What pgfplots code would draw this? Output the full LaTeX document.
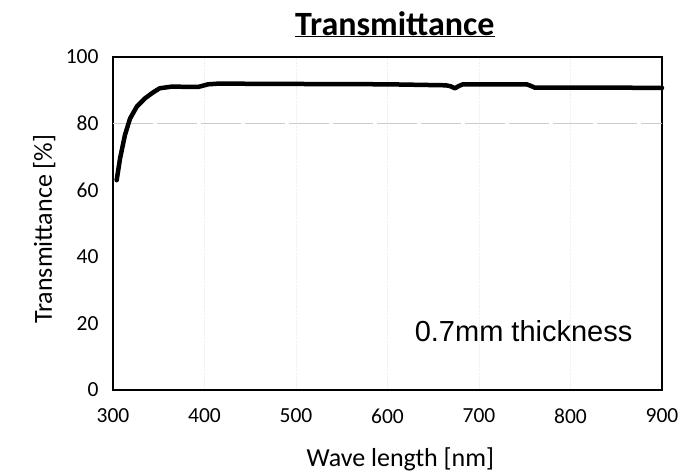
\documentclass[border=0pt]{standalone}
\usepackage{pgfplots}
\pgfplotsset{compat=1.18}
\usepackage{fontspec}
\setmainfont{Carlito}
\newfontfamily\arial{Liberation Sans}
\begin{document}
\begin{tikzpicture}
\begin{axis}[
  scale only axis,
  width=549bp, height=333bp,
  xmin=300, xmax=900, ymin=0, ymax=100,
  xtick={300,400,...,900}, ytick={0,20,...,100},
  major tick length=0pt,
  axis line style={line width=1.5bp, black},
  /pgf/number format/assume math mode=true,
  tick label style={font=\fontsize{21.5bp}{25bp}\selectfont, black},
  xticklabel style={yshift=-15bp},
  yticklabel style={xshift=-11bp},
  xmajorgrids,
  major grid style={gray!12, densely dotted, line width=0.6bp},
  extra y ticks={80},
  extra y tick labels={},
  extra y tick style={ymajorgrids=true, major grid style={gray!40, dash pattern=on 40bp off 4bp, line width=0.6bp}},
  clip=false,
  xlabel={Wave length [nm]},
  xlabel style={at={(axis cs:614,-23)}, anchor=base, font=\fontsize{26bp}{30bp}\selectfont},
  ylabel={Transmittance [\%]},
  ylabel style={at={(axis cs:233.3,48.3)}, anchor=base, font=\fontsize{26bp}{30bp}\selectfont},
]
\addplot[black, line width=4.5bp, line join=round, line cap=round] coordinates {
(304,63.0) (307.7,69.5) (313,76.5) (318.6,81.5) (326,85.1) (335,87.6)
(344,89.4) (351,90.6) (364,91.1) (393,91.0) (404,91.8) (415,92.0)
(500,91.9) (600,91.8) (664,91.5) (669,91.2) (673.8,90.6) (678,91.3) (682.5,91.8)
(700,91.8) (752,91.8) (756,91.4) (761,90.8) (800,90.8) (850,90.8) (900,90.7)
};
\node[anchor=base, font=\fontsize{34bp}{40bp}\selectfont\bfseries] at (axis cs:608,106.6) {\underline{Transmittance}};
\node[anchor=base west, font=\arial\fontsize{29bp}{34bp}\selectfont] at (axis cs:626,14.7) {0.7mm thickness};
\end{axis}
\pgfresetboundingbox
\path (-113bp,-86bp) rectangle (568bp,390bp);
\end{tikzpicture}
\end{document}
